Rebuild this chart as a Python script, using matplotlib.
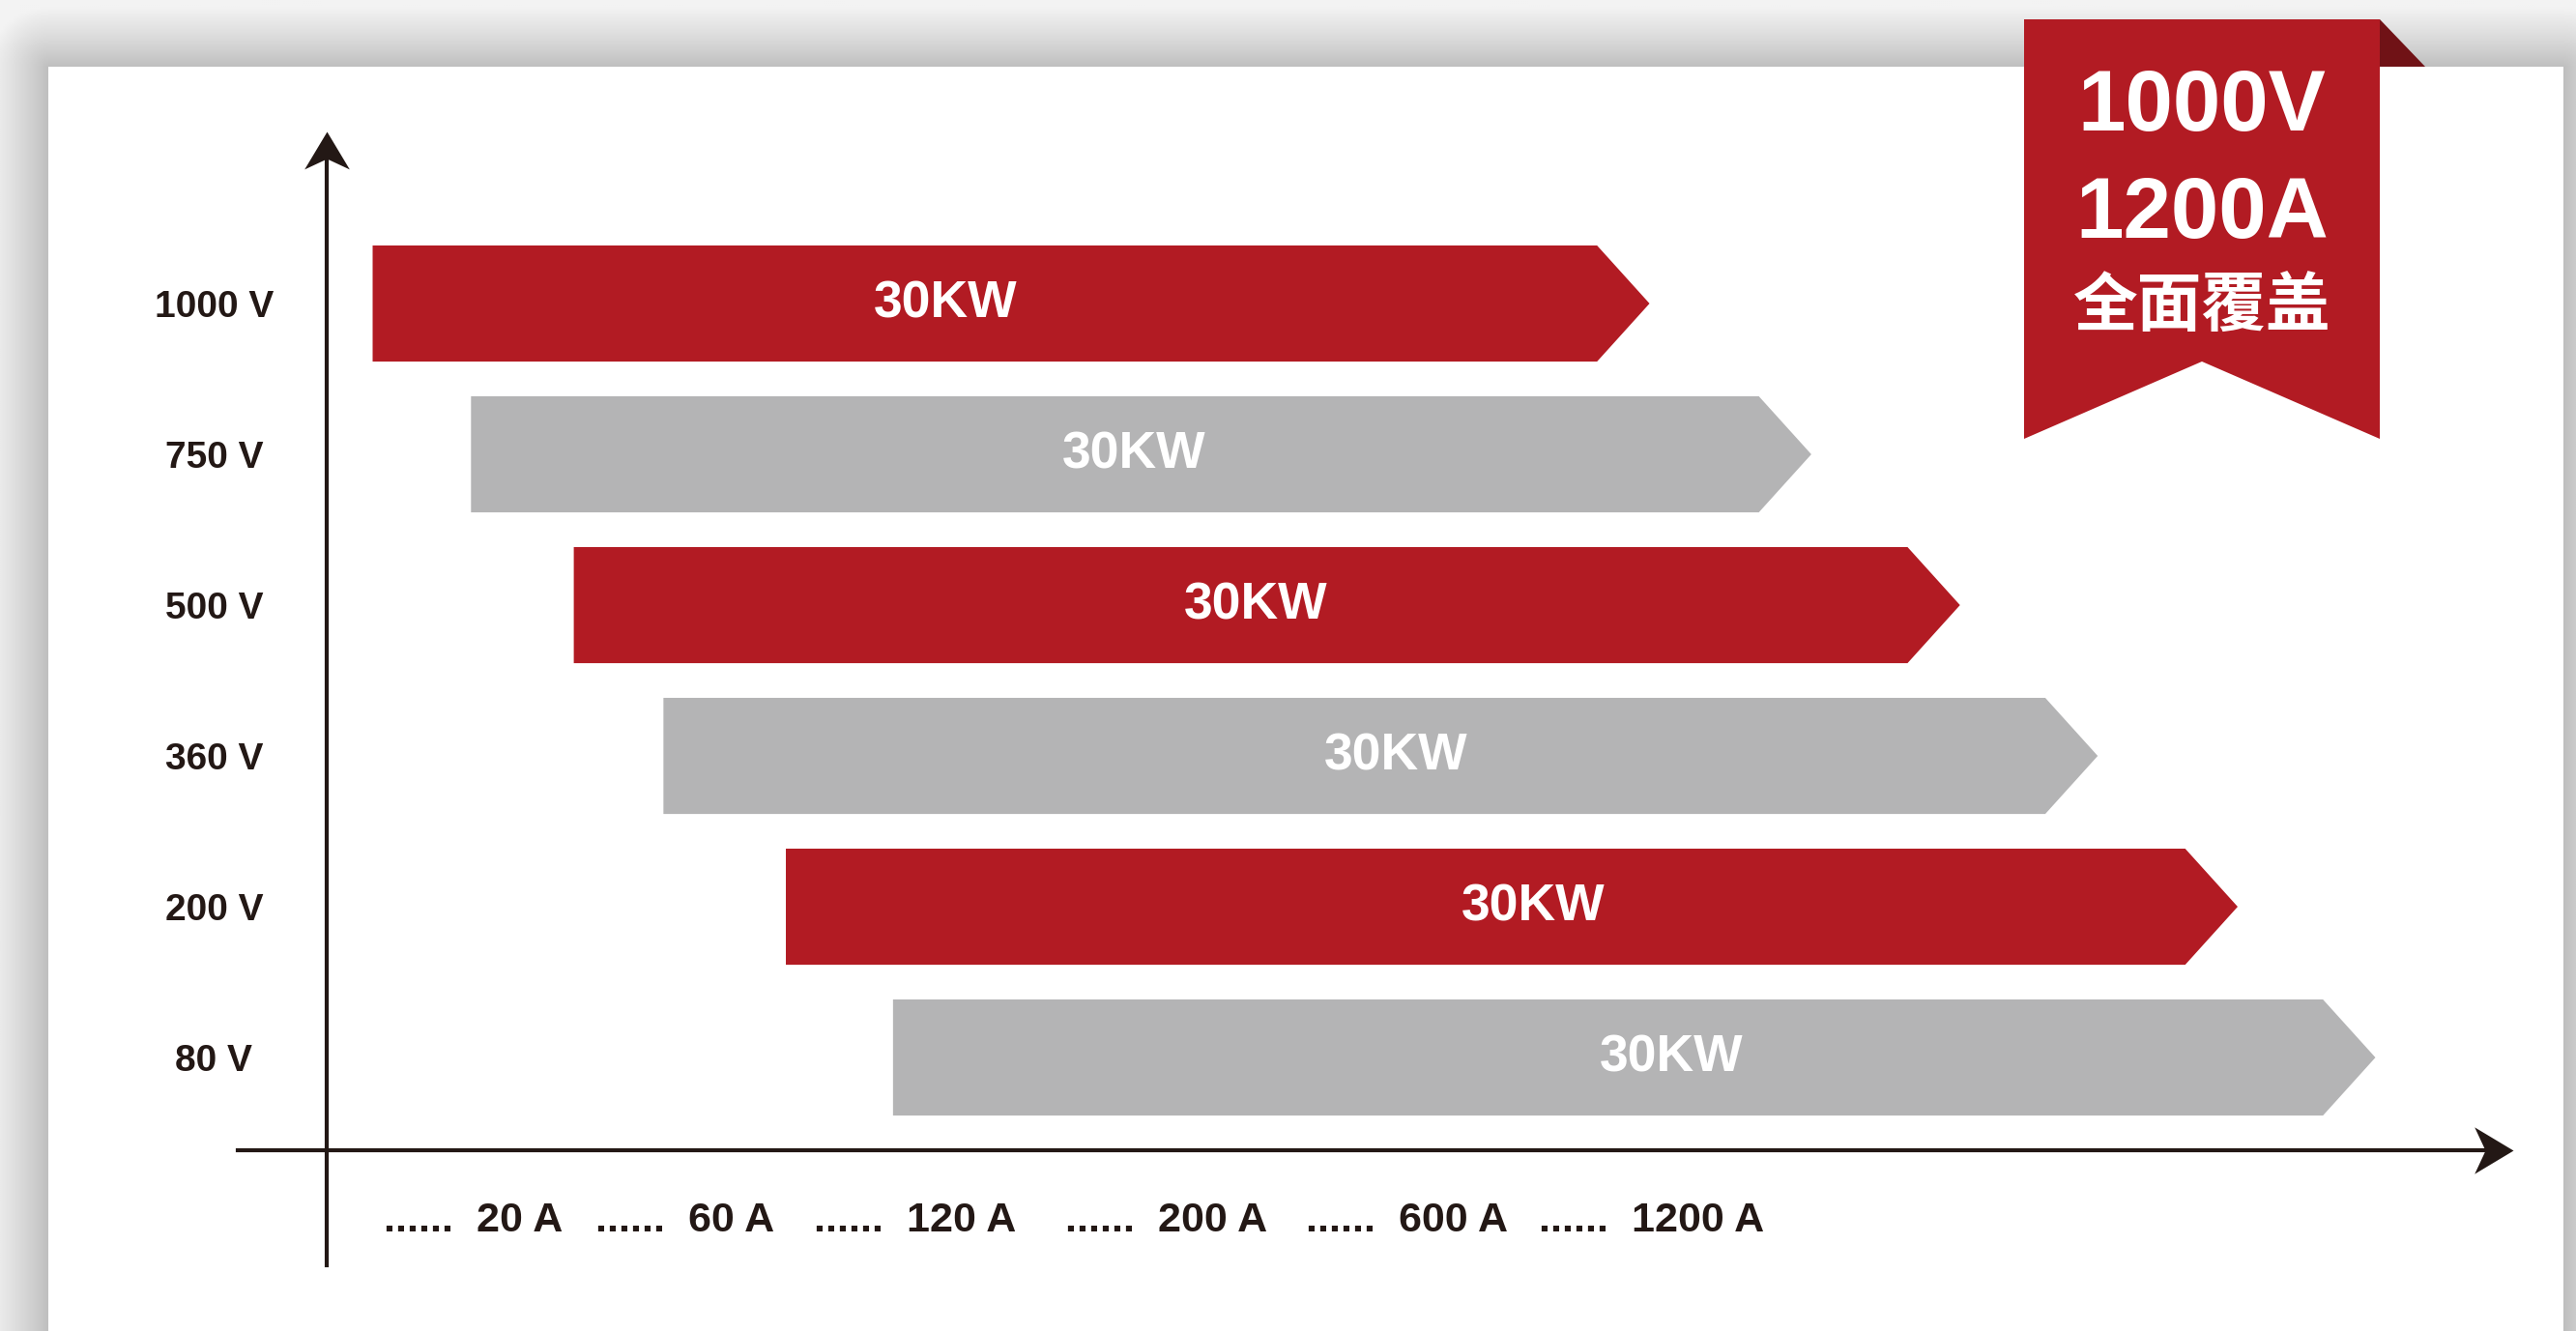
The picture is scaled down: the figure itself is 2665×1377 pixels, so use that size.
import numpy as np
import matplotlib

matplotlib.use("Agg")
import matplotlib.pyplot as plt
from matplotlib.patches import Polygon, Rectangle
from matplotlib.path import Path

# ---------------------------------------------------------------------
# Data (x in "current range" units, 0 = y axis)
# ---------------------------------------------------------------------
voltages = ["80 V", "200 V", "360 V", "500 V", "750 V", "1000 V"]
bar_start = [25.9, 21.0, 15.4, 11.3, 6.6, 2.1]
bar_end = [93.7, 87.4, 81.0, 74.7, 67.9, 60.5]
bar_power = ["30KW", "30KW", "30KW", "30KW", "30KW", "30KW"]
bar_label_x = [61.5, 55.2, 48.9, 42.5, 36.9, 28.3]
bar_kind = ["grey", "red", "grey", "red", "grey", "red"]

current_ticks = [6.7, 16.4, 26.9, 38.4, 49.4, 60.6]
current_labels = [
    "......  20 A",
    "......  60 A",
    "......  120 A",
    "......  200 A",
    "......  600 A",
    "......  1200 A",
]

badge_lines = ["1000V", "1200A", "全面覆盖"]

# ---------------------------------------------------------------------
# Style
# ---------------------------------------------------------------------
RED = "#b21b23"
DARK_RED = "#701216"
GREY = "#b4b4b5"
INK = "#231815"
COLORS = {"red": RED, "grey": GREY}

W, H = 2665, 1377
PANEL_L, PANEL_R, PANEL_T = 50, 2652, 69

plt.rcParams["font.family"] = ["Liberation Sans", "DejaVu Sans"]
CJK = ["Noto Sans CJK SC", "DejaVu Sans"]

fig = plt.figure(figsize=(W / 100, H / 100), dpi=100)

# background: soft shadow around a white card
bg = fig.add_axes([0, 0, 1, 1])
yy, xx = np.mgrid[0:H:2, 0:W:2]
dx = np.maximum(np.maximum(PANEL_L - xx, xx - PANEL_R), 0)
dy = np.maximum(PANEL_T - yy, 0)
dist = np.clip(np.hypot(dx, dy) / 62.0, 0, 1)
shade = 0.74 + 0.21 * dist ** 0.85
bg.imshow(
    shade,
    cmap="gray",
    vmin=0,
    vmax=1,
    extent=(0, W, H, 0),
    interpolation="bilinear",
    aspect="auto",
)
bg.add_patch(
    Rectangle((PANEL_L, PANEL_T), PANEL_R - PANEL_L, H - PANEL_T,
              facecolor="white", edgecolor="none")
)
bg.set_xlim(0, W)
bg.set_ylim(H, 0)
bg.axis("off")

# ribbon badge, top right
rb_l, rb_r, rb_t, rb_b, notch = 2094, 2462, 20, 454, 374
bg.add_patch(
    Polygon([(rb_r, rb_t), (rb_r + 47, PANEL_T), (rb_r, PANEL_T)],
            closed=True, facecolor=DARK_RED, edgecolor="none")
)
bg.add_patch(
    Polygon([(rb_l, rb_t), (rb_r, rb_t), (rb_r, rb_b),
             ((rb_l + rb_r) / 2, notch), (rb_l, rb_b)],
            closed=True, facecolor=RED, edgecolor="none")
)
cx = (rb_l + rb_r) / 2
bg.text(cx, 112, badge_lines[0], color="white", fontsize=64,
        fontweight="bold", ha="center", va="center")
bg.text(cx, 223, badge_lines[1], color="white", fontsize=64,
        fontweight="bold", ha="center", va="center")
bg.text(cx, 318, badge_lines[2], color="white", fontsize=48,
        fontweight="bold", ha="center", va="center", family=CJK)

# ---------------------------------------------------------------------
# Main chart: axes box = from y axis (x=0) to x arrow tip,
# from x axis up to y arrow tip
# ---------------------------------------------------------------------
x0_px, x1_px, ybase_px, ytop_px = 338, 2600, 1190, 136
ax = fig.add_axes([x0_px / W, 1 - ybase_px / H,
                   (x1_px - x0_px) / W, (ybase_px - ytop_px) / H])
ax.patch.set_visible(False)
for s in ax.spines.values():
    s.set_visible(False)

y_lo, y_hi = -0.615, 6.141
ax.set_xlim(0, 100)
ax.set_ylim(y_lo, y_hi)

half_h = 0.385
tip = 2.4
for i in range(len(voltages)):
    s, e = bar_start[i], bar_end[i]
    verts = [(s, i - half_h), (e - tip, i - half_h), (e, i),
             (e - tip, i + half_h), (s, i + half_h)]
    ax.add_patch(Polygon(verts, closed=True,
                         facecolor=COLORS[bar_kind[i]], edgecolor="none"))
    ax.text(bar_label_x[i], i, bar_power[i], color="white", fontsize=38.5,
            fontweight="bold", ha="center", va="center")

# axis lines with notched arrow heads
head_right = Path(
    [(0, 0), (-1, 0.6), (-0.72, 0), (-1, -0.6), (0, 0)],
    [Path.MOVETO, Path.LINETO, Path.LINETO, Path.LINETO, Path.CLOSEPOLY],
)
head_up = Path(
    [(0, 0), (0.6, -1), (0, -0.72), (-0.6, -1), (0, 0)],
    [Path.MOVETO, Path.LINETO, Path.LINETO, Path.LINETO, Path.CLOSEPOLY],
)
ax.plot([-4.07, 99], [y_lo, y_lo], color=INK, lw=3, clip_on=False)
ax.plot([100], [y_lo], marker=head_right, markersize=58, color=INK,
        markeredgewidth=0, clip_on=False)
ax.plot([0, 0], [-1.378, y_hi - 0.1], color=INK, lw=3, clip_on=False)
ax.plot([0], [y_hi], marker=head_up, markersize=56, color=INK,
        markeredgewidth=0, clip_on=False)

ax.set_yticks(range(len(voltages)))
ax.set_yticklabels(voltages, fontsize=28, fontweight="bold", color=INK)
for t in ax.get_yticklabels():
    t.set_horizontalalignment("center")
ax.tick_params(axis="y", length=0, pad=84)

ax.set_xticks(current_ticks)
ax.set_xticklabels(current_labels, fontsize=31, fontweight="bold", color=INK)
ax.tick_params(axis="x", length=0, pad=38)

fig.savefig("out.png", dpi=100)
